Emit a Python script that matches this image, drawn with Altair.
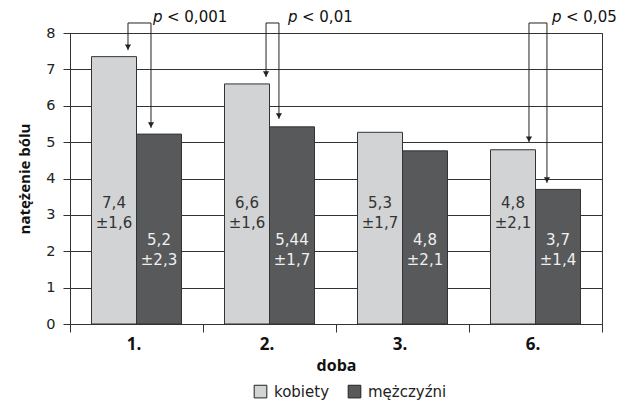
import altair as alt
import pandas as pd

# ---- data ----
categories = ["1.", "2.", "3.", "6."]
groups = ["kobiety", "mężczyźni"]
kobiety = [7.35, 6.6, 5.27, 4.79]
mezczyzni = [5.22, 5.42, 4.76, 3.7]
kobiety_mean = ["7,4", "6,6", "5,3", "4,8"]
kobiety_sd = ["±1,6", "±1,6", "±1,7", "±2,1"]
mezczyzni_mean = ["5,2", "5,44", "4,8", "3,7"]
mezczyzni_sd = ["±2,3", "±1,7", "±2,1", "±1,4"]

# significance brackets (x in day-band units 0..4, y in pain units)
p_labels = ["< 0,001", "< 0,01", "< 0,05"]
p_text_x = [0.624, 1.639, 3.624]
br_left_x = [0.436, 1.474, 3.451]
br_right_x = [0.609, 1.571, 3.586]
br_left_tip = [7.53, 6.79, 5.00]
br_right_tip = [5.39, 5.64, 3.88]
br_top = 8.275
p_text_y = 8.29

FONT = "DejaVu Sans"
BOLD_FONT = "Open Sans"
LINE = "#333333"
LIGHT = "#d1d3d4"
DARK = "#58595b"
BAR_W = 45

rows = []
for i, c in enumerate(categories):
    rows.append({"doba": c, "plec": groups[0], "value": kobiety[i],
                 "label": kobiety_mean[i] + "\n" + kobiety_sd[i]})
    rows.append({"doba": c, "plec": groups[1], "value": mezczyzni[i],
                 "label": mezczyzni_mean[i] + "\n" + mezczyzni_sd[i]})
bars_df = pd.DataFrame(rows)

br_df = pd.DataFrame({"lx": br_left_x, "rx": br_right_x, "px": p_text_x,
                      "plab": p_labels, "top": [br_top] * 3,
                      "ty": [p_text_y] * 3})
tips_df = pd.DataFrame({"x": br_left_x + br_right_x,
                        "tip": br_left_tip + br_right_tip,
                        "top": [br_top] * 6})

y_scale = alt.Scale(domain=[0, 8], nice=False, zero=False)
y_axis = alt.Axis(title="natężenie bólu", values=list(range(9)), grid=True,
                  gridColor=LINE, gridOpacity=1, gridWidth=1,
                  domainColor=LINE, tickColor=LINE, tickSize=7,
                  labelPadding=8, labelFontSize=14.5, labelColor="#222",
                  labelFont=FONT,
                  titleFont=BOLD_FONT, titleFontSize=15,
                  titleFontWeight="bold", titleColor="#111",
                  titlePadding=13)

x_scale = alt.Scale(domain=categories, paddingInner=0, paddingOuter=0)
x_axis = alt.Axis(title="doba", tickBand="extent", labelAngle=0,
                  domainColor=LINE, tickColor=LINE, tickSize=8,
                  labelPadding=4, labelFontSize=17, labelOffset=-3,
                  labelFont=BOLD_FONT,
                  labelFontWeight="bold", labelColor="#111",
                  titleFont=BOLD_FONT,
                  titleFontSize=16, titleFontWeight="bold",
                  titleColor="#111", titlePadding=5, grid=False)

color_enc = alt.Color("plec:N", sort=groups,
                      scale=alt.Scale(domain=groups, range=[LIGHT, DARK]),
                      legend=alt.Legend(title=None, orient="none",
                                        direction="horizontal",
                                        legendX=183, legendY=351,
                                        symbolType="square", symbolSize=160,
                                        symbolStrokeColor="#222",
                                        symbolStrokeWidth=1,
                                        labelFont=FONT,
                                        labelFontSize=15, labelColor="#222",
                                        columnPadding=16, labelOffset=6))

base = alt.Chart(bars_df)
y_val = alt.Y("value:Q", scale=y_scale, axis=y_axis)

bars_k = base.mark_bar(stroke=LINE, strokeWidth=1, width=BAR_W,
                       xOffset=-BAR_W / 2).encode(
    x=alt.X("doba:N", sort=categories, scale=x_scale, axis=x_axis),
    y=y_val, color=color_enc,
).transform_filter(alt.datum.plec == groups[0])

bars_m = base.mark_bar(stroke=LINE, strokeWidth=1, width=BAR_W,
                       xOffset=BAR_W / 2).encode(
    x=alt.X("doba:N", sort=categories, scale=x_scale, axis=None),
    y=y_val, color=color_enc,
).transform_filter(alt.datum.plec == groups[1])

txt_k = base.mark_text(lineBreak="\n", lineHeight=20, fontSize=15,
                       font=FONT, color="#333333", baseline="middle",
                       xOffset=-BAR_W / 2).encode(
    x=alt.X("doba:N", sort=categories, scale=x_scale, axis=None),
    y=alt.Y(datum=3.33, type="quantitative", scale=y_scale, axis=y_axis),
    text="label:N",
).transform_filter(alt.datum.plec == groups[0])

txt_m = base.mark_text(lineBreak="\n", lineHeight=20, fontSize=15,
                       font=FONT, color="#f0f0f0", baseline="middle",
                       xOffset=BAR_W / 2).encode(
    x=alt.X("doba:N", sort=categories, scale=x_scale, axis=None),
    y=alt.Y(datum=2.31, type="quantitative", scale=y_scale, axis=y_axis),
    text="label:N",
).transform_filter(alt.datum.plec == groups[1])

ax_scale = alt.Scale(domain=[0, 4], nice=False, zero=False)

hbar = alt.Chart(br_df).mark_rule(color="#222", strokeWidth=1).encode(
    x=alt.X("lx:Q", scale=ax_scale, axis=None),
    x2="rx:Q",
    y=alt.Y("top:Q", scale=y_scale, axis=y_axis),
)
vbar = alt.Chart(tips_df).mark_rule(color="#222", strokeWidth=1).encode(
    x=alt.X("x:Q", scale=ax_scale, axis=None),
    y=alt.Y("tip:Q", scale=y_scale, axis=y_axis),
    y2="top:Q",
)
heads = alt.Chart(tips_df).mark_point(shape="triangle-down", filled=True,
                                      size=38, color="#222", opacity=1,
                                      yOffset=-3).encode(
    x=alt.X("x:Q", scale=ax_scale, axis=None),
    y=alt.Y("tip:Q", scale=y_scale, axis=y_axis),
)
p_it = alt.Chart(br_df).mark_text(text="p", fontStyle="italic", fontSize=15,
                                  font=FONT, align="left",
                                  baseline="alphabetic",
                                  color="#111").encode(
    x=alt.X("px:Q", scale=ax_scale, axis=None),
    y=alt.Y("ty:Q", scale=y_scale, axis=y_axis),
)
p_rest = alt.Chart(br_df).mark_text(fontSize=15, font=FONT, align="left",
                                    dx=14, baseline="alphabetic",
                                    color="#111").encode(
    x=alt.X("px:Q", scale=ax_scale, axis=None),
    y=alt.Y("ty:Q", scale=y_scale, axis=y_axis),
    text="plab:N",
)

chart = alt.layer(bars_k, bars_m, txt_k, txt_m, hbar, vbar, heads, p_it,
                  p_rest).resolve_scale(x="independent").properties(
    width=532, height=291,
    padding={"left": 62, "top": 25, "right": 15, "bottom": 79},
    autosize=alt.AutoSizeParams(type="none"),
).configure(font=FONT).configure_view(stroke=LINE, strokeWidth=1)

chart.save("out.html", embed_options={"renderer": "svg", "actions": False})
